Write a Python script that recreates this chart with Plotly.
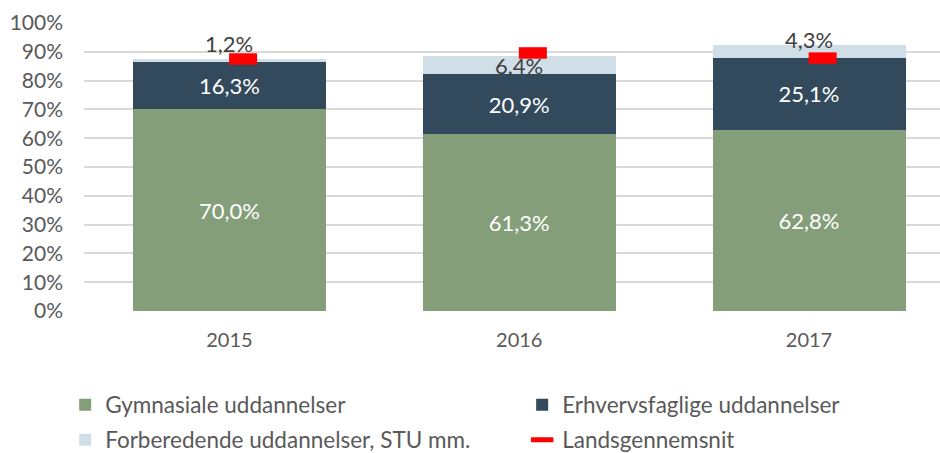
import numpy as np
import plotly.graph_objects as go

years = ["2015", "2016", "2017"]
gymnasiale = [70.0, 61.3, 62.8]
erhvervsfaglige = [16.3, 20.9, 25.1]
forberedende = [1.2, 6.4, 4.3]
landsgennemsnit = [87.5, 89.6, 87.8]
y_ticks = list(range(0, 101, 10))

FONT = "Lato"
TXT = "#595959"
C_GYM = "#849E79"
C_ERH = "#334A5C"
C_FOR = "#D0DEE7"
C_RED = "#FF0000"
MARKER_DX = 0.047
LABEL3_SHIFT = [17, 0, 12]

def fmt(v):
    return f"{v:.1f}".replace(".", ",") + "%"

x = np.arange(len(years))

fig = go.Figure()
fig.add_trace(go.Bar(x=x, y=gymnasiale, name="Gymnasiale uddannelser",
                     marker=dict(color=C_GYM, line=dict(width=0)),
                     text=[fmt(v) for v in gymnasiale], textposition="inside",
                     insidetextanchor="middle", legend="legend",
                     textfont=dict(color="white", size=22, family=FONT)))
fig.add_trace(go.Bar(x=x, y=erhvervsfaglige, name="Erhvervsfaglige uddannelser",
                     marker=dict(color=C_ERH, line=dict(width=0)),
                     text=[fmt(v) for v in erhvervsfaglige], textposition="inside",
                     insidetextanchor="middle", legend="legend",
                     textfont=dict(color="white", size=22, family=FONT)))
fig.add_trace(go.Bar(x=x, y=forberedende, name="Forberedende uddannelser, STU mm.",
                     marker=dict(color=C_FOR, line=dict(width=0)), legend="legend2"))
fig.add_trace(go.Scatter(x=x + MARKER_DX, y=landsgennemsnit, mode="markers",
                         name="Landsgennemsnit", legend="legend2",
                         marker=dict(symbol="line-ew", size=20,
                                     line=dict(color=C_RED, width=11.5))))

for i in range(len(years)):
    base = gymnasiale[i] + erhvervsfaglige[i]
    fig.add_annotation(x=x[i], y=base + forberedende[i] / 2, text=fmt(forberedende[i]),
                       showarrow=False, yshift=LABEL3_SHIFT[i],
                       font=dict(color="#404040", size=22, family=FONT))

legend_common = dict(orientation="h", xref="paper", yref="paper",
                     x=-0.022, xanchor="left", yanchor="middle",
                     entrywidth=412, entrywidthmode="pixels",
                     font=dict(size=22.5, color=TXT, family=FONT),
                     bgcolor="rgba(0,0,0,0)", traceorder="normal")

fig.update_layout(
    width=940, height=453,
    margin=dict(l=84, r=0, t=23, b=142, autoexpand=False),
    paper_bgcolor="white", plot_bgcolor="white",
    barmode="stack", bargap=0.334,
    font=dict(family=FONT, size=20, color=TXT),
    uniformtext=dict(minsize=22, mode="show"),
    xaxis=dict(range=[-0.502, 2.452], tickmode="array", tickvals=x, ticktext=years,
               showgrid=False, zeroline=False, showline=False, automargin=False,
               ticklabelstandoff=15, tickfont=dict(size=20, color=TXT)),
    yaxis=dict(range=[0, 100], tickmode="array", tickvals=y_ticks,
               ticktext=[f"{v}%" for v in y_ticks],
               showgrid=True, gridcolor="#D9D9D9", gridwidth=1.5,
               zeroline=False, showline=False, automargin=False,
               ticklabelstandoff=20, tickfont=dict(size=21, color=TXT)),
    legend=dict(legend_common, y=-(405 - 311) / 288),
    legend2=dict(legend_common, y=-(440 - 311) / 288),
    showlegend=True,
)

fig.write_html("out.html", config={"displayModeBar": False},
               post_script="document.body.style.margin='0';")
